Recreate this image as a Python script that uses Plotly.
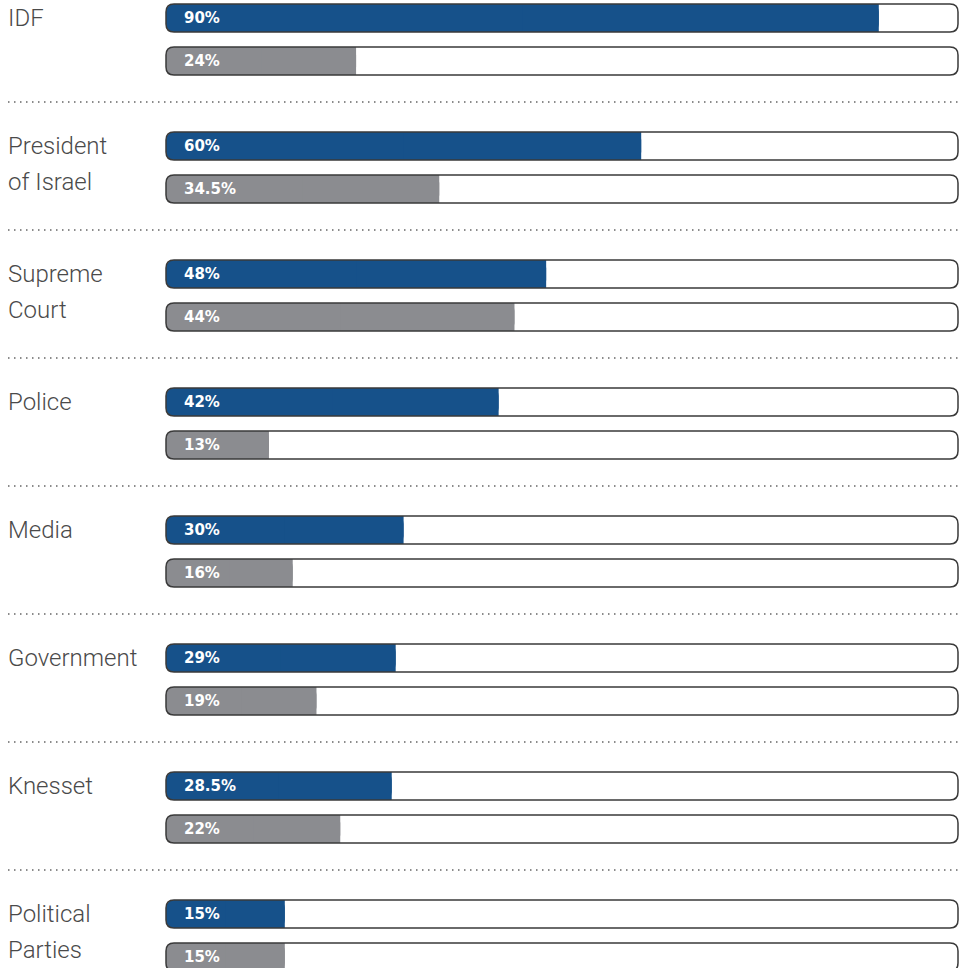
import plotly.graph_objects as go

categories = ["IDF", "President<br>of Israel", "Supreme<br>Court", "Police", "Media",
              "Government", "Knesset", "Political<br>Parties"]
blue_values = [90, 60, 48, 42, 30, 29, 28.5, 15]
grey_values = [24, 34.5, 44, 13, 16, 19, 22, 15]
blue_labels = ["90%", "60%", "48%", "42%", "30%", "29%", "28.5%", "15%"]
grey_labels = ["24%", "34.5%", "44%", "13%", "16%", "19%", "22%", "15%"]
scale_max = 100

W, H = 961, 968
PITCH = 128
BLUE_OFF, GREY_OFF, SEP_OFF = 18, 61, 102
BAR_W = 28
RADIUS_PX = 8
X0_PX, X100_PX = 166, 958
LABEL_X = 6
k = (X100_PX - X0_PX) / 100.0
xa = -X0_PX / k
xb = xa + W / k

BLUE = "#16518a"
GREY = "#8b8c90"
OUT = "#3a3a3a"

n = len(categories)
# y axis runs upward, so positions are negative pixel offsets from the top
y_blue = [-(PITCH * i + BLUE_OFF) for i in range(n)]
y_grey = [-(PITCH * i + GREY_OFF) for i in range(n)]

fig = go.Figure()

# fill: rounded bar (both ends) plus a square-cornered overlay on its right half,
# leaving only the left end rounded
def add_fill(vals, ys, color):
    fig.add_trace(go.Bar(x=vals, base=[0] * len(vals), y=ys, orientation="h",
                         width=BAR_W,
                         marker=dict(color=color, line=dict(width=0), cornerradius=RADIUS_PX),
                         hoverinfo="skip"))
    fig.add_trace(go.Bar(x=[v / 2 for v in vals], base=[v / 2 for v in vals], y=ys,
                         orientation="h", width=BAR_W,
                         marker=dict(color=color, line=dict(width=0), cornerradius=0),
                         hoverinfo="skip"))

add_fill(blue_values, y_blue, BLUE)
add_fill(grey_values, y_grey, GREY)

# rounded outline of the 0-100 track
rx = RADIUS_PX / k
ry = RADIUS_PX
shapes = []
for yc in y_blue + y_grey:
    top, bot = yc + BAR_W / 2, yc - BAR_W / 2
    x0, x1 = 0, scale_max
    path = (f"M {x0 + rx},{top} L {x1 - rx},{top} Q {x1},{top} {x1},{top - ry} "
            f"L {x1},{bot + ry} Q {x1},{bot} {x1 - rx},{bot} L {x0 + rx},{bot} "
            f"Q {x0},{bot} {x0},{bot + ry} L {x0},{top - ry} Q {x0},{top} {x0 + rx},{top} Z")
    shapes.append(dict(type="path", xref="x", yref="y", path=path,
                       line=dict(color=OUT, width=1.5), fillcolor="rgba(0,0,0,0)"))

for i in range(n - 1):
    yy = -(PITCH * i + SEP_OFF)
    shapes.append(dict(type="line", xref="paper", yref="y", x0=8 / W, x1=958 / W,
                       y0=yy, y1=yy,
                       line=dict(color="#666666", width=1.5, dash="1.5px,4.5px")))

annotations = []
vfont = dict(family="DejaVu Sans", size=15, color="white", weight="bold")
for i in range(n):
    annotations.append(dict(x=0, y=y_blue[i], xref="x", yref="y", text=blue_labels[i],
                            showarrow=False, xanchor="left", yanchor="middle", xshift=16,
                            font=vfont))
    annotations.append(dict(x=0, y=y_grey[i], xref="x", yref="y", text=grey_labels[i],
                            showarrow=False, xanchor="left", yanchor="middle", xshift=16,
                            font=vfont))
    lines = categories[i].split("<br>")
    for j, line in enumerate(lines):
        annotations.append(dict(x=LABEL_X / W, y=y_blue[i] - j * 36, xref="paper", yref="y",
                                text=line, showarrow=False, xanchor="left", yanchor="middle",
                                font=dict(family="Roboto", size=24, color="#4a4a4a", weight=300)))

fig.update_layout(
    width=W, height=H, margin=dict(l=0, r=0, t=0, b=0),
    paper_bgcolor="white", plot_bgcolor="white",
    barmode="overlay", showlegend=False,
    xaxis=dict(range=[xa, xb], visible=False, fixedrange=True),
    yaxis=dict(range=[-H, 0], visible=False, fixedrange=True),
    annotations=annotations, shapes=shapes,
)

fig.write_html("out.html", config={"displayModeBar": False},
               post_script="document.body.style.margin='0';document.body.style.overflow='hidden';")
